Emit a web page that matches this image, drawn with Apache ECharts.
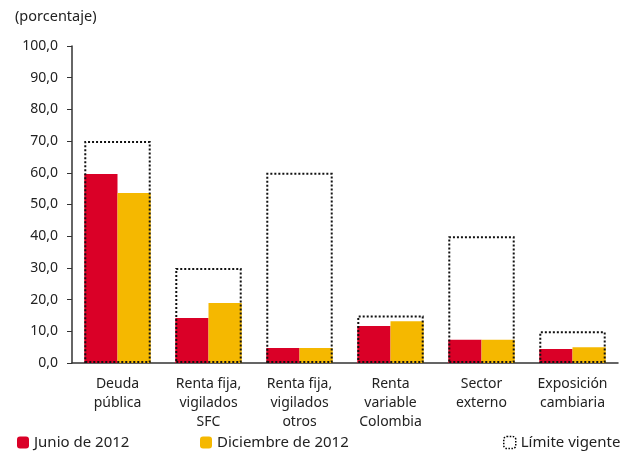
<!DOCTYPE html>
<html>
<head>
<meta charset="utf-8">
<script src="https://cdn.jsdelivr.net/npm/echarts@6/dist/echarts.min.js"></script>
<style>
  html, body { margin: 0; padding: 0; background: #fff; }
  #chart { width: 630px; height: 451px; }
</style>
</head>
<body>
<div id="chart"></div>
<script>
// categorías y valores (porcentaje)
const categorias = ['Deuda\npública', 'Renta fija,\nvigilados\nSFC', 'Renta fija,\nvigilados\notros', 'Renta\nvariable\nColombia', 'Sector\nexterno', 'Exposición\ncambiaria']
const junio2012 = [59.6, 14.2, 4.7, 11.7, 7.3, 4.4]
const diciembre2012 = [53.6, 18.9, 4.7, 13.2, 7.3, 5.0]
const limiteVigente = [70, 30, 60, 15, 40, 10]

const fontFamily = '"Noto Sans", sans-serif'
const rojo = '#DA0027'
const oro = '#F5B800'

const chart = echarts.init(document.getElementById('chart'))

const option = {
  animation: false,
  textStyle: { fontFamily: fontFamily },
  title: {
    text: '(porcentaje)',
    left: 10,
    top: 4,
    textStyle: { fontSize: 14.5, fontWeight: 'normal', color: '#222', fontFamily: fontFamily }
  },
  legend: [
    {
      data: ['Junio de 2012'],
      left: 12, top: 430,
      itemWidth: 12, itemHeight: 12,
      textStyle: { fontSize: 15, color: '#222' }
    },
    {
      data: ['Diciembre de 2012'],
      left: 195, top: 430,
      itemWidth: 12, itemHeight: 12,
      textStyle: { fontSize: 15, color: '#222' }
    },
    {
      data: [{
        name: 'Límite vigente',
        itemStyle: { color: '#fff', borderColor: '#000', borderWidth: 1.5, borderType: 'dotted' }
      }],
      left: 498, top: 430,
      itemWidth: 12, itemHeight: 12,
      textStyle: { fontSize: 15, color: '#222' }
    }
  ],
  grid: {
    left: 72,
    right: 12,
    top: 46,
    bottom: 88
  },
  xAxis: [
    {
      type: 'category',
      data: categorias,
      axisLine: { lineStyle: { color: '#333', width: 1.5 } },
      axisTick: { show: false },
      axisLabel: { color: '#222', fontSize: 14, lineHeight: 19, margin: 12, interval: 0 }
    },
    {
      type: 'category',
      data: categorias,
      position: 'bottom',
      show: false
    }
  ],
  yAxis: {
    type: 'value',
    min: 0,
    max: 100,
    interval: 10,
    axisLine: { show: true, lineStyle: { color: '#333', width: 1.5 } },
    axisTick: { show: true, length: 5, lineStyle: { color: '#333' } },
    splitLine: { show: false },
    axisLabel: {
      color: '#222',
      fontSize: 14,
      margin: 14,
      formatter: v => v.toFixed(1).replace('.', ',')
    }
  },
  series: [
    {
      name: 'Junio de 2012',
      type: 'bar',
      xAxisIndex: 0,
      data: junio2012,
      barGap: '0%',
      barCategoryGap: '27%',
      itemStyle: { color: rojo }
    },
    {
      name: 'Diciembre de 2012',
      type: 'bar',
      xAxisIndex: 0,
      data: diciembre2012,
      itemStyle: { color: oro }
    },
    {
      name: 'Límite vigente',
      type: 'bar',
      xAxisIndex: 1,
      data: limiteVigente,
      barCategoryGap: '27%',
      z: 5,
      itemStyle: {
        color: 'rgba(0,0,0,0)',
        borderColor: '#111',
        borderWidth: 2,
        borderType: [2, 2]
      }
    }
  ]
}

chart.setOption(option)
</script>
</body>
</html>
